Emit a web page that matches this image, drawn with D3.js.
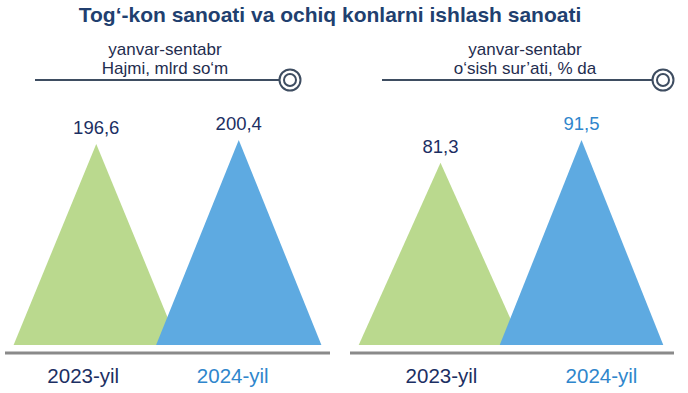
<!DOCTYPE html>
<html>
<head>
<meta charset="utf-8">
<script src="https://cdn.jsdelivr.net/npm/d3@7"></script>
<style>
  body { margin: 0; background: #fff; }
  svg { font-family: "Liberation Sans", Arial, sans-serif; display: block; }
</style>
</head>
<body>
<svg></svg>
<script>
const svgWidth = 688;
const svgHeight = 393;
const svg = d3.select("svg").attr("width", svgWidth).attr("height", svgHeight);

const title = "Tog‘-kon sanoati va ochiq konlarni ishlash sanoati";
const years = ["2023-yil", "2024-yil"];
const volumeValues = [196.6, 200.4];
const growthValues = [81.3, 91.5];
const volumeHeader = ["yanvar-sentabr", "Hajmi, mlrd so‘m"];
const growthHeader = ["yanvar-sentabr", "o‘sish sur’ati, % da"];

const fmt = (v) => d3.format(".1f")(v).replace(".", ",");
const fills = ["#bad98e", "#5eaae1"];
const yearColors = ["#1c2f63", "#2f86cc"];

svg.append("text")
    .attr("x", 330)
    .attr("y", 22)
    .attr("text-anchor", "middle")
    .attr("font-size", 21)
    .attr("font-weight", "bold")
    .attr("fill", "#213f6f")
    .text(title);

const panels = [
    {header: volumeHeader, values: volumeValues, left: 5, right: 330, band: [25, 310], lineX: [35, 279],
     yearDx: [-13, -6], valueColors: ["#1c2f63", "#1c2f63"]},
    {header: growthHeader, values: growthValues, left: 350, right: 674, band: [370, 652], lineX: [382, 652],
     yearDx: [1, 20], valueColors: ["#1c2f63", "#2f86cc"]}
];

const baseY = 345;

panels.forEach((p) => {
    const g = svg.append("g");

    // header
    const cx = (p.lineX[0] + p.lineX[1]) / 2 + 8;
    g.selectAll("text.head")
        .data(p.header)
        .join("text")
        .attr("class", "head")
        .attr("x", cx)
        .attr("y", (d, i) => 55 + i * 18.5)
        .attr("text-anchor", "middle")
        .attr("font-size", 17)
        .attr("fill", "#1f2d4f")
        .text((d) => d);

    g.append("line")
        .attr("x1", p.lineX[0]).attr("x2", p.lineX[1])
        .attr("y1", 80).attr("y2", 80)
        .attr("stroke", "#3e4d61").attr("stroke-width", 2);
    g.append("circle")
        .attr("cx", p.lineX[1] + 11).attr("cy", 80).attr("r", 10.5)
        .attr("fill", "#fff").attr("stroke", "#3e4d61").attr("stroke-width", 2);
    g.append("circle")
        .attr("cx", p.lineX[1] + 11).attr("cy", 80).attr("r", 6)
        .attr("fill", "#fff").attr("stroke", "#3e4d61").attr("stroke-width", 2);

    const x = d3.scaleBand()
        .domain(years)
        .range(p.band);

    const y = d3.scaleLinear()
        .domain([0, d3.max(p.values)])
        .range([baseY, 140]);

    const half = x.bandwidth() * 0.58;
    const data = years.map((yr, i) => ({year: yr, value: p.values[i], i}));

    g.selectAll("path.tri")
        .data(data)
        .join("path")
        .attr("class", "tri")
        .attr("fill", (d) => fills[d.i])
        .attr("d", (d) => {
            const c = x(d.year) + x.bandwidth() / 2;
            return `M${c - half},${baseY}L${c},${y(d.value)}L${c + half},${baseY}Z`;
        });

    g.selectAll("text.val")
        .data(data)
        .join("text")
        .attr("class", "val")
        .attr("x", (d) => x(d.year) + x.bandwidth() / 2)
        .attr("y", (d) => y(d.value) - 10)
        .attr("text-anchor", "middle")
        .attr("font-size", 18.5)
        .attr("fill", (d) => p.valueColors[d.i])
        .text((d) => fmt(d.value));

    g.append("line")
        .attr("x1", p.left).attr("x2", p.right)
        .attr("y1", 353).attr("y2", 353)
        .attr("stroke", "#8a8a8a").attr("stroke-width", 3);

    g.selectAll("text.year")
        .data(data)
        .join("text")
        .attr("class", "year")
        .attr("x", (d) => x(d.year) + x.bandwidth() / 2 + p.yearDx[d.i])
        .attr("y", 383)
        .attr("text-anchor", "middle")
        .attr("font-size", 20.5)
        .attr("fill", (d) => yearColors[d.i])
        .text((d) => d.year);
});
</script>
</body>
</html>
